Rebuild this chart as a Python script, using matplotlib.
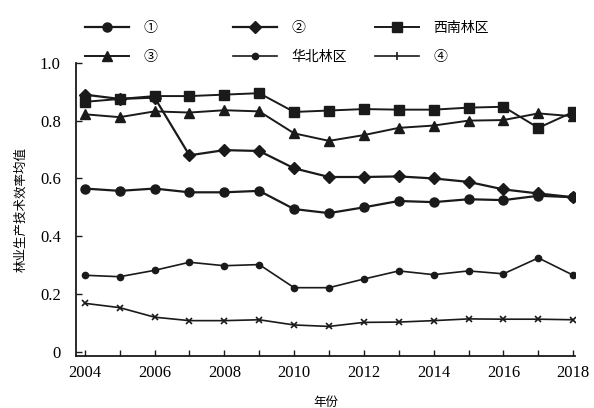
import matplotlib.pyplot as plt
from matplotlib.lines import Line2D

years = list(range(2004, 2019))
s1 = [0.565, 0.557, 0.565, 0.552, 0.552, 0.557, 0.494, 0.480, 0.500, 0.522, 0.518, 0.528, 0.525, 0.540, 0.535]
s2 = [0.890, 0.875, 0.880, 0.680, 0.698, 0.695, 0.635, 0.605, 0.605, 0.607, 0.600, 0.588, 0.562, 0.548, 0.535]
sw = [0.865, 0.875, 0.885, 0.885, 0.890, 0.895, 0.830, 0.835, 0.840, 0.838, 0.838, 0.845, 0.848, 0.775, 0.830]
s3 = [0.822, 0.812, 0.832, 0.828, 0.836, 0.832, 0.756, 0.730, 0.750, 0.775, 0.783, 0.800, 0.802, 0.825, 0.815]
hb = [0.265, 0.260, 0.282, 0.310, 0.298, 0.302, 0.222, 0.222, 0.252, 0.280, 0.267, 0.280, 0.270, 0.325, 0.265]
s4 = [0.168, 0.153, 0.120, 0.108, 0.108, 0.111, 0.093, 0.088, 0.102, 0.103, 0.108, 0.114, 0.113, 0.113, 0.111]

labels = ['①', '②', '西南林区', '③', '华北林区', '④']

cjk = ['Noto Sans CJK SC', 'DejaVu Sans']
serif = ['Liberation Serif', 'DejaVu Serif']

fig = plt.figure(figsize=(5.94, 4.08), dpi=100)
ax = fig.add_axes([0.128, 0.127, 0.840, 0.719])

c = '#1a1a1a'
styles = [
    dict(lw=1.6, marker='o', ms=6.5),
    dict(lw=1.6, marker='D', ms=6),
    dict(lw=1.4, marker='s', ms=6.5),
    dict(lw=1.4, marker='^', ms=7),
    dict(lw=1.2, marker='o', ms=4.5),
    dict(lw=1.2, marker='x', ms=5, mew=1.2),
]
for data, st in zip([s1, s2, sw, s3, hb, s4], styles):
    ax.plot(years, data, color=c, **st)

ax.set_xlim(2003.75, 2018.05)
ax.set_ylim(-0.015, 1.0)
ax.set_xticks(years)
ax.set_xticklabels([str(y) if y % 2 == 0 else '' for y in years])
ax.set_yticks([0, 0.2, 0.4, 0.6, 0.8, 1.0])
ax.set_yticklabels(['0', '0.2', '0.4', '0.6', '0.8', '1.0'])
ax.tick_params(direction='in', length=4, width=1, color=c, labelsize=12)
ax.tick_params(axis='x', pad=6)
ax.tick_params(axis='y', pad=11)
for lab in ax.get_xticklabels() + ax.get_yticklabels():
    lab.set_family(serif)
for side in ['top', 'right']:
    ax.spines[side].set_visible(False)
for side in ['left', 'bottom']:
    ax.spines[side].set_linewidth(1.3)
    ax.spines[side].set_color(c)

ax.set_xlabel('年份', family=cjk, fontsize=9, labelpad=11)
ax.set_ylabel('林业生产技术效率均值', family=cjk, fontsize=9, labelpad=9)

# legend: three columns placed at fixed positions like the original
handles = []
for st in styles:
    st = dict(st)
    if st['marker'] == 'x':
        st['marker'] = '|'
        st['ms'] = 6
    handles.append(Line2D([], [], color=c, **st))

col_x = [0.143, 0.392, 0.631]
for k, x0 in enumerate(col_x):
    idx = [k, k + 3]
    fig.legend([handles[i] for i in idx], [labels[i] for i in idx],
               loc='upper left', bbox_to_anchor=(x0, 0.948),
               borderaxespad=0, borderpad=0, frameon=False,
               prop={'family': cjk, 'size': 10},
               handlelength=3.2, handletextpad=1.0, labelspacing=1.05)

fig.savefig('out.png', dpi=100)
